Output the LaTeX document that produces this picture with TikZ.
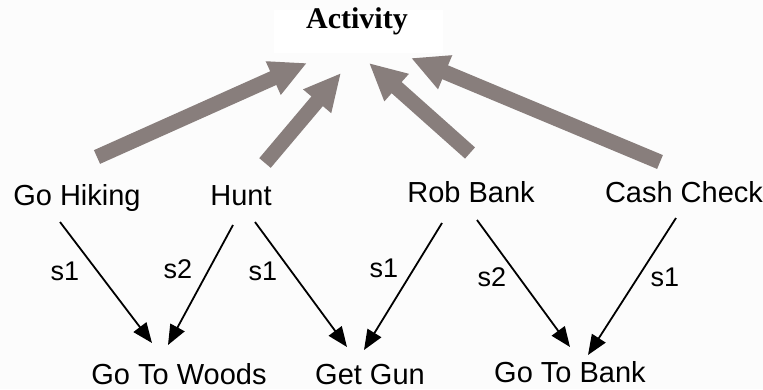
\documentclass[tikz,border=0pt]{standalone}
\usepackage{fontspec}
\setmainfont{Liberation Serif}
\setsansfont{Liberation Sans}
\usetikzlibrary{arrows.meta}
\definecolor{bgcol}{RGB}{252,252,252}
\definecolor{fatgray}{RGB}{136,126,124}
\tikzset{
  lbl/.style={font=\sffamily\fontsize{29}{33}\selectfont, anchor=base, inner sep=0pt},
  slbl/.style={font=\sffamily\fontsize{27}{31}\selectfont, anchor=base, inner sep=0pt},
  toplbl/.style={font=\bfseries\fontsize{30}{34}\selectfont, anchor=base, inner sep=0pt},
  fatarrow/.style={draw=fatgray, line width=15pt, line cap=butt,
    -{Triangle[length=37pt,width=34pt,fill=fatgray,color=fatgray]}},
  thinarrow/.style={draw=black, line width=1.8pt,
    -{Triangle[length=20pt,width=16pt]}}
}
\begin{document}
\begin{tikzpicture}[x=1pt,y=-1pt]
\useasboundingbox (0,0) rectangle (763,389);
\fill[bgcol] (0,0) rectangle (763,389);
\fill[white] (274,10) rectangle (443,53);

% nodes
\node[toplbl] (act) at (357,28) {Activity};
\node[lbl] (gh) at (77,205) {Go Hiking};
\node[lbl] (hunt) at (241,205) {Hunt};
\node[lbl] (rob) at (471,202) {Rob Bank};
\node[lbl] (cash) at (684,202) {Cash Check};
\node[lbl] (woods) at (179,384) {Go To Woods};
\node[lbl] (gun) at (370,384) {Get Gun};
\node[lbl] (bank) at (570,382) {Go To Bank};

% connector end points
\coordinate (gh-up) at (97,157);
\coordinate (hunt-up) at (265,163);
\coordinate (rob-up) at (470,153);
\coordinate (cash-up) at (660,162);
\coordinate (act-1) at (307,63);
\coordinate (act-2) at (341,73);
\coordinate (act-3) at (369,63);
\coordinate (act-4) at (411,58);

\coordinate (gh-dn) at (60,222);
\coordinate (hunt-dnl) at (233,225);
\coordinate (hunt-dnr) at (255,222);
\coordinate (rob-dnl) at (442,223);
\coordinate (rob-dnr) at (477,220);
\coordinate (cash-dn) at (676,218);
\coordinate (woods-l) at (152,343);
\coordinate (woods-r) at (168,345);
\coordinate (gun-l) at (347,347);
\coordinate (gun-r) at (364,350);
\coordinate (bank-l) at (570,347);
\coordinate (bank-r) at (588,355);

% fat gray arrows
\draw[fatarrow] (gh-up) -- (act-1);
\draw[fatarrow] (hunt-up) -- (act-2);
\draw[fatarrow] (rob-up) -- (act-3);
\draw[fatarrow] (cash-up) -- (act-4);

% thin arrows
\draw[thinarrow] (gh-dn) -- (woods-l);
\draw[thinarrow] (hunt-dnl) -- (woods-r);
\draw[thinarrow] (hunt-dnr) -- (gun-l);
\draw[thinarrow] (rob-dnl) -- (gun-r);
\draw[thinarrow] (rob-dnr) -- (bank-l);
\draw[thinarrow] (cash-dn) -- (bank-r);

% labels
\node[slbl] (l1) at (65,280) {s1};
\node[slbl] (l2) at (178,278) {s2};
\node[slbl] (l3) at (263,280) {s1};
\node[slbl] (l4) at (384,277) {s1};
\node[slbl] (l5) at (492,286) {s2};
\node[slbl] (l6) at (665,286) {s1};
\end{tikzpicture}
\end{document}
